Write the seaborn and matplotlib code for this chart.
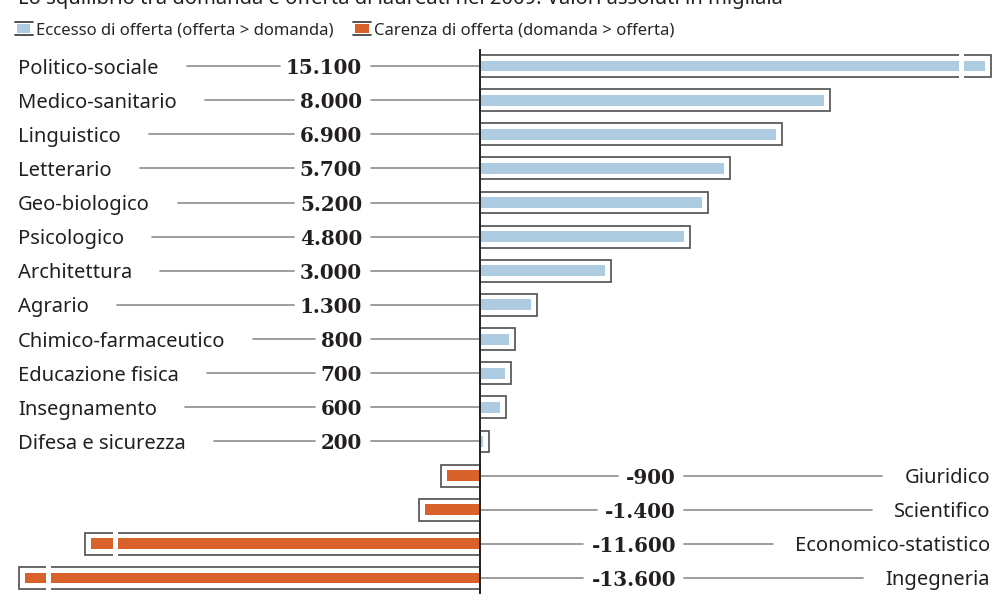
import matplotlib
matplotlib.use("Agg")
import matplotlib.pyplot as plt
from matplotlib.patches import Patch, Rectangle
from matplotlib.lines import Line2D
from matplotlib.legend_handler import HandlerBase
import matplotlib.transforms as mtransforms
import pandas as pd
import seaborn as sns


TITLE = "Lo squilibrio tra domanda e offerta di laureati nel 2009. Valori assoluti in migliaia"

CATEGORIES = [
    "Politico-sociale", "Medico-sanitario", "Linguistico", "Letterario",
    "Geo-biologico", "Psicologico", "Architettura", "Agrario",
    "Chimico-farmaceutico", "Educazione fisica", "Insegnamento",
    "Difesa e sicurezza", "Giuridico", "Scientifico",
    "Economico-statistico", "Ingegneria",
]
VALUES = [15100, 8000, 6900, 5700, 5200, 4800, 3000, 1300,
          800, 700, 600, 200, -900, -1400, -11600, -13600]

LEGEND_LABELS = {
    "eccesso": "Eccesso di offerta (offerta > domanda)",
    "carenza": "Carenza di offerta (domanda > offerta)",
}
PALETTE = {"eccesso": "#aecce1", "carenza": "#d9622b"}

# bars longer than BREAK_AT are drawn broken (shortened)
BREAK_AT = 10000
BREAK_TO = 7800
BREAK_SLOPE = 0.76

W, H = 1002, 594
AXIS_PX = 480
PX_PER_UNIT = 0.0438
ROW_TOP_PX, ROW_BOTTOM_PX = 66, 578

SANS = "Noto Sans"
SERIF = "DejaVu Serif"
LINE_COLOR = "#8c8c8c"
TEXT_COLOR = "#231f20"


def fmt(v):
    return f"{v:,}".replace(",", ".")


def shown_value(v):
    sign = 1 if v >= 0 else -1
    if abs(v) > BREAK_AT:
        return sign * (BREAK_TO + (abs(v) - BREAK_AT) * BREAK_SLOPE)
    return v


class BoxHandler(HandlerBase):
    # small swatch: dark line on top and bottom, colour square in between
    def create_artists(self, legend, orig_handle, xdescent, ydescent,
                       width, height, fontsize, trans):
        x0, y0 = -xdescent, -ydescent
        fill = Rectangle((x0 + width * 0.12, y0 + height * 0.18), width * 0.76, height * 0.64,
                         facecolor=orig_handle.get_facecolor(), edgecolor="none",
                         transform=trans)
        top = Line2D([x0, x0 + width], [y0 + height, y0 + height], color="#444444",
                     linewidth=1.3, transform=trans)
        bot = Line2D([x0, x0 + width], [y0, y0], color="#444444",
                     linewidth=1.3, transform=trans)
        return [fill, top, bot]


def draw_graph():
    sns.set_style("white")
    plt.rcParams["font.family"] = [SANS, "DejaVu Sans"]

    df = pd.DataFrame({"categoria": CATEGORIES, "valore": VALUES})
    df["tipo"] = ["eccesso" if v > 0 else "carenza" for v in VALUES]
    df["shown"] = [shown_value(v) for v in VALUES]
    pad = 6 / PX_PER_UNIT
    df["fill"] = [s - pad if s > 0 else s + pad for s in df["shown"]]

    fig = plt.figure(figsize=(W / 100, H / 100), dpi=100)
    ax = fig.add_axes([0, 0, 1, 1])

    # outline boxes
    sns.barplot(data=df, y="categoria", x="shown", orient="h", order=CATEGORIES,
                color="white", edgecolor="#5c5c5c", linewidth=1.3, width=0.64,
                saturation=1, ax=ax)
    # coloured bars
    sns.barplot(data=df, y="categoria", x="fill", orient="h", order=CATEGORIES,
                hue="tipo", palette=PALETTE, dodge=False, width=0.32,
                saturation=1, linewidth=0, legend=False, ax=ax)

    spacing = (ROW_BOTTOM_PX - ROW_TOP_PX) / (len(CATEGORIES) - 1)
    ax.set_ylim((H - ROW_TOP_PX) / spacing, -ROW_TOP_PX / spacing)
    ax.set_xlim(-AXIS_PX / PX_PER_UNIT, (W - AXIS_PX) / PX_PER_UNIT)
    ax.set_axis_off()

    # break marks on the shortened bars
    gap_off = 30 / PX_PER_UNIT
    gap_w = 5 / PX_PER_UNIT
    for i, (v, s) in enumerate(zip(VALUES, df["shown"])):
        if abs(v) > BREAK_AT:
            gx = s - gap_off if s > 0 else s + gap_off
            ax.add_patch(Rectangle((gx - gap_w / 2, i - 0.36), gap_w, 0.72,
                                   facecolor="white", edgecolor="none", zorder=5))

    # zero axis
    ax.vlines(0, -0.5, ax.get_ylim()[0], color="#222222", linewidth=1.4, zorder=6)

    trans = mtransforms.blended_transform_factory(ax.transAxes, ax.transData)
    cat_texts, val_texts = [], []
    for i, (cat, v) in enumerate(zip(CATEGORIES, VALUES)):
        if v > 0:
            ct = ax.text(18 / W, i, cat, transform=trans, ha="left", va="center_baseline",
                         fontsize=14.5, color=TEXT_COLOR)
            vt = ax.text(362 / W, i, fmt(v), transform=trans, ha="right", va="center_baseline",
                         fontsize=14.3, fontweight="bold", family=SERIF, color=TEXT_COLOR)
        else:
            ct = ax.text(990 / W, i, cat, transform=trans, ha="right", va="center_baseline",
                         fontsize=14.5, color=TEXT_COLOR)
            vt = ax.text(676 / W, i, fmt(v), transform=trans, ha="right", va="center_baseline",
                         fontsize=14.3, fontweight="bold", family=SERIF, color=TEXT_COLOR)
        cat_texts.append(ct)
        val_texts.append(vt)

    fig.canvas.draw()
    renderer = fig.canvas.get_renderer()
    inv = ax.transData.inverted()

    def px_to_x(px):
        return inv.transform((px, 0))[0]

    for i, v in enumerate(VALUES):
        cb = cat_texts[i].get_window_extent(renderer)
        vb = val_texts[i].get_window_extent(renderer)
        if v > 0:
            segs = [(cb.x1 + 28, vb.x0 - 6), (vb.x1 + 9, AXIS_PX)]
        else:
            segs = [(AXIS_PX, vb.x0 - 8), (vb.x1 + 8, cb.x0 - 22)]
        for a, b in segs:
            ax.plot([px_to_x(a), px_to_x(b)], [i, i], color=LINE_COLOR,
                    linewidth=1.2, zorder=1)

    fig.text(18 / W, 1 - 4 / H, TITLE, ha="left", va="baseline",
             fontsize=14.5, color=TEXT_COLOR)

    handles = [Patch(facecolor=PALETTE[k]) for k in LEGEND_LABELS]
    fig.legend(handles, list(LEGEND_LABELS.values()), loc="upper left",
               bbox_to_anchor=(15 / W, 1 - 22 / H), ncol=2, frameon=False,
               fontsize=12, handlelength=1.05, handleheight=0.85,
               handletextpad=0.2, columnspacing=1.2, borderaxespad=0, borderpad=0,
               handler_map={Patch: BoxHandler()})

    fig.savefig("out.png", dpi=100)


draw_graph()
